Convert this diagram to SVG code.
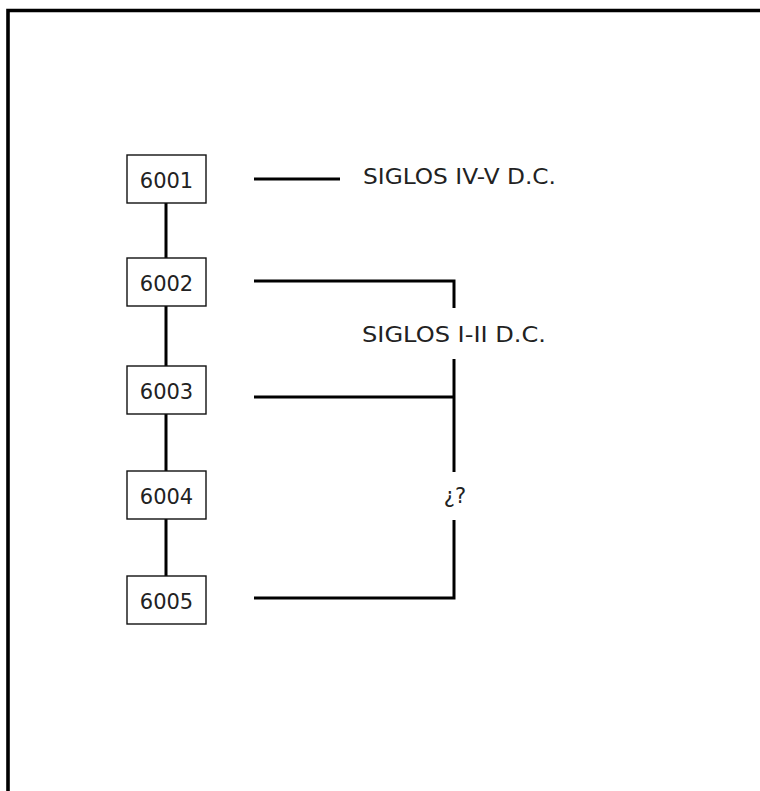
<svg xmlns="http://www.w3.org/2000/svg" width="760" height="791" viewBox="0 0 760 791">
<style>
.box{fill:#fff;stroke:#111;stroke-width:1.4}
.t{font-family:"DejaVu Sans","Verdana",sans-serif;font-size:21px;fill:#222}
.c{fill:none;stroke:#000;stroke-width:3}
</style>
<rect width="760" height="791" fill="#fff"/>
<path d="M8 791V10.5H760" fill="none" stroke="#000" stroke-width="3.6"/>
<g id="connectors">
<path class="c" d="M166 203V258M166 306V366M166 414V471M166 519V576"/>
<path class="c" d="M254 179H340"/>
<path class="c" d="M254 281H454V308"/>
<path class="c" d="M454 359V472"/>
<path class="c" d="M254 397H454"/>
<path class="c" d="M454 520V598H254"/>
</g>
<g id="n6001"><rect class="box" x="127" y="155" width="79" height="48"/><text class="t" x="166.5" y="188" text-anchor="middle">6001</text></g>
<g id="n6002"><rect class="box" x="127" y="258" width="79" height="48"/><text class="t" x="166.5" y="291" text-anchor="middle">6002</text></g>
<g id="n6003"><rect class="box" x="127" y="366" width="79" height="48"/><text class="t" x="166.5" y="399" text-anchor="middle">6003</text></g>
<g id="n6004"><rect class="box" x="127" y="471" width="79" height="48"/><text class="t" x="166.5" y="504" text-anchor="middle">6004</text></g>
<g id="n6005"><rect class="box" x="127" y="576" width="79" height="48"/><text class="t" x="166.5" y="609" text-anchor="middle">6005</text></g>
<g id="lab1"><text class="t" x="363" y="184" textLength="193" lengthAdjust="spacingAndGlyphs">SIGLOS IV-V D.C.</text></g>
<g id="lab2"><text class="t" x="362" y="342" textLength="184" lengthAdjust="spacingAndGlyphs">SIGLOS I-II D.C.</text></g>
<g id="lab3"><text class="t" x="455" y="503" text-anchor="middle">¿?</text></g>
</svg>
